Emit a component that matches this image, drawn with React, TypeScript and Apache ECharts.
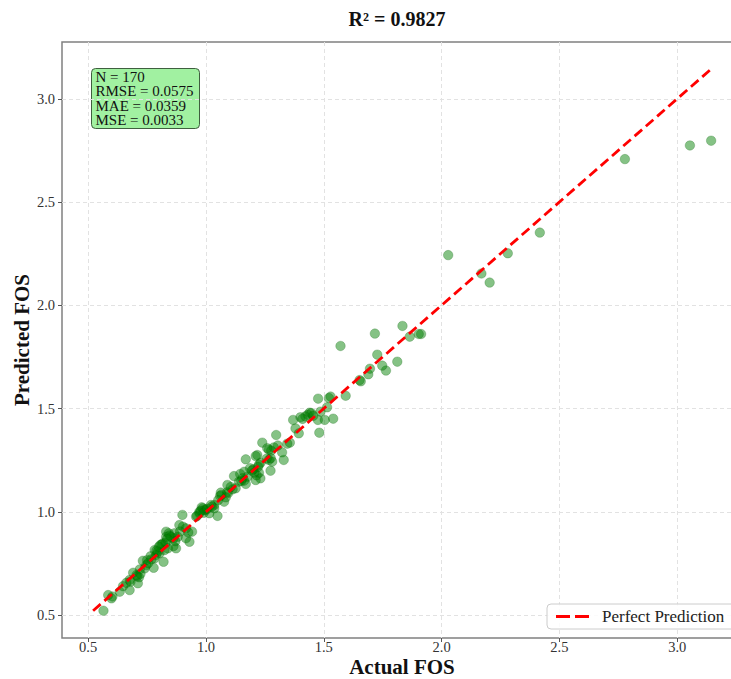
import React, { useEffect, useRef } from "react";
import * as echarts from "echarts";

const actualFOS = [
  3.144, 3.054, 2.778, 2.417, 2.281, 2.204, 2.169, 2.028,
  1.913, 1.903, 1.865, 1.834, 1.812, 1.764, 1.748, 1.727, 1.717, 1.696, 1.689, 1.657, 1.652, 1.571, 1.593, 1.529,
  1.540, 1.522, 1.514, 1.504, 1.486, 1.481, 1.476, 1.475, 1.440, 1.432, 1.447, 1.422, 1.401, 1.394, 1.380, 1.370,
  1.356, 1.330, 1.323, 1.305, 1.298, 1.288, 1.281, 1.277, 1.274, 1.267, 1.267, 1.260, 1.239, 1.232, 1.231, 1.225,
  1.221, 1.218, 1.215, 1.211, 1.211, 1.201, 1.187,
  1.176, 1.169, 1.169, 1.162, 1.162, 1.145, 1.140, 1.126, 1.119, 1.113, 1.094, 1.091, 1.084, 1.077, 1.063, 1.060,
  1.052, 1.049, 1.035, 1.035, 1.021, 1.014,
  1.000, 0.993, 0.986, 0.982, 0.972, 0.972, 0.962, 0.958, 0.941, 0.930, 0.915, 0.915, 0.902, 0.900,
  0.887, 0.880, 0.873, 0.866, 0.862, 0.862, 0.842, 0.838, 0.831, 0.831, 0.828, 0.824, 0.820, 0.817, 0.806, 0.803,
  0.796, 0.789, 0.782, 0.782, 0.778, 0.768, 0.750, 0.747, 0.740, 0.732, 0.719, 0.716, 0.711, 0.705, 0.691, 0.676,
  0.676, 0.662, 0.634, 0.599, 0.585, 0.565,
  0.845, 0.852, 0.835, 0.812, 0.800, 0.708, 0.722, 0.680, 0.603, 0.648, 0.755, 0.765, 0.790, 0.870, 0.890, 0.925,
  0.978, 0.990, 1.005, 1.025, 1.066, 1.090, 1.105, 1.150, 1.155, 1.195, 1.205, 1.225, 1.258, 1.275, 1.410, 1.455,
  1.345,
];

const predictedFOS = [
  2.797, 2.774, 2.708, 2.352, 2.252, 2.110, 2.154, 2.243,
  1.861, 1.861, 1.848, 1.900, 1.727, 1.684, 1.708, 1.761, 1.863, 1.693, 1.666, 1.632, 1.638, 1.803, 1.562, 1.558,
  1.451, 1.551, 1.506, 1.445, 1.485, 1.383, 1.548, 1.445, 1.480, 1.470, 1.478, 1.462, 1.458, 1.380, 1.404, 1.445,
  1.335, 1.251, 1.288, 1.321, 1.372, 1.312, 1.243, 1.296, 1.199, 1.301, 1.251, 1.308, 1.335, 1.238, 1.162, 1.189,
  1.218, 1.275, 1.177, 1.270, 1.154, 1.206, 1.211,
  1.170, 1.254, 1.135, 1.194, 1.151, 1.183, 1.146, 1.114, 1.173, 1.109, 1.090, 1.130, 1.070, 1.049, 1.093, 1.077,
  1.057, 0.980, 1.033, 1.017, 1.033, 0.993,
  1.009, 1.009, 1.017, 1.022, 0.993, 1.000, 0.980, 0.977, 0.904, 0.855, 0.872, 0.920, 0.928, 0.985,
  0.936, 0.879, 0.823, 0.896, 0.872, 0.834, 0.896, 0.823, 0.879, 0.904, 0.850, 0.815, 0.758, 0.847, 0.839, 0.799,
  0.807, 0.791, 0.815, 0.775, 0.729, 0.770, 0.766, 0.742, 0.726, 0.763, 0.721, 0.683, 0.654, 0.694, 0.705, 0.670,
  0.621, 0.656, 0.613, 0.581, 0.597, 0.521,
  0.885, 0.878, 0.868, 0.842, 0.830, 0.688, 0.700, 0.662, 0.590, 0.640, 0.752, 0.785, 0.812, 0.858, 0.905, 0.900,
  1.005, 0.995, 1.015, 1.025, 1.082, 1.095, 1.120, 1.150, 1.162, 1.200, 1.190, 1.228, 1.258, 1.260, 1.450, 1.465,
  1.330,
];

const tickValues = [0.5, 1.0, 1.5, 2.0, 2.5, 3.0];
const axisMin = 0.389;
const axisMax = 3.275;
const perfectLine = [0.521, 3.144];
const titleText = "R² = 0.9827";
const xName = "Actual FOS";
const yName = "Predicted FOS";
const legendName = "Perfect Prediction";
const statLabels = ["N", "RMSE", "MAE", "MSE"];
const statValues = ["170", "0.0575", "0.0359", "0.0033"];

export default function App() {
  const ref = useRef<HTMLDivElement>(null);
  useEffect(() => {
    if (!ref.current) return;
    const chart = echarts.init(ref.current, null, { renderer: "svg" });
    const serif = "'Liberation Serif', 'Times New Roman', serif";
    const points = actualFOS.map((a, i) => [a, predictedFOS[i]]);
    const statText = statLabels.map((l, i) => `${l} = ${statValues[i]}`).join("\n");
    const labelBase = {
      customValues: tickValues,
      formatter: (v: number) => v.toFixed(1),
      fontFamily: serif,
      fontSize: 14.5,
      lineHeight: 14,
      color: "#333",
    };
    const axisCommon = {
      type: "value",
      min: axisMin,
      max: axisMax,
      nameLocation: "middle",
      nameMoveOverlap: false,
      axisLine: { show: false },
      axisTick: { show: true, length: 4, customValues: tickValues, lineStyle: { color: "#555", width: 1 } },
      splitLine: { show: true, lineStyle: { color: "#e2e2e2", width: 1, type: [4, 3] } },
    };
    chart.setOption({
      animation: false,
      backgroundColor: "#ffffff",
      title: {
        text: titleText,
        left: 392,
        top: 4,
        textAlign: "center",
        textStyle: { fontFamily: serif, fontSize: 20, fontWeight: "bold", color: "#111" },
      },
      grid: {
        left: 62,
        top: 42,
        width: 680,
        height: 596,
        outerBoundsMode: "none",
        containLabel: false,
        show: true,
        borderColor: "#808080",
        borderWidth: 1.5,
        backgroundColor: "transparent",
      },
      xAxis: {
        ...axisCommon,
        axisLabel: { ...labelBase, margin: 2 },
        name: xName,
        nameGap: 18,
        nameTextStyle: { fontFamily: serif, fontSize: 21, fontWeight: "bold", color: "#111", lineHeight: 22 },
      },
      yAxis: {
        ...axisCommon,
        axisLabel: { ...labelBase, margin: 7 },
        name: yName,
        nameGap: 30,
        nameTextStyle: { fontFamily: serif, fontSize: 21, fontWeight: "bold", color: "#111" },
      },
      legend: {
        data: [{ name: legendName, icon: "path://M0,0H14V3H0Z M19,0H33V3H19Z" }],
        left: 547,
        top: 604,
        itemWidth: 35,
        itemHeight: 3,
        padding: [4, 22, 4, 9],
        backgroundColor: "rgba(255,255,255,0.85)",
        borderColor: "#cccccc",
        borderWidth: 1,
        borderRadius: 4,
        textStyle: { fontFamily: serif, fontSize: 17, color: "#222", padding: [0, 0, 0, 7] },
      },
      graphic: [
        {
          type: "group",
          left: 91,
          top: 68,
          z: 100,
          children: [
            {
              type: "rect",
              shape: { x: 0, y: 0, width: 108, height: 60, r: 4 },
              style: { fill: "rgba(144,238,144,0.85)", stroke: "#3f5f3f", lineWidth: 1 },
            },
            {
              type: "text",
              x: 4,
              y: 1,
              style: {
                text: statText,
                font: `15px ${serif}`,
                lineHeight: 14.5,
                fill: "#111",
              },
            },
          ],
        },
      ],
      series: [
        {
          type: "scatter",
          data: points,
          symbol: "circle",
          symbolSize: 9.5,
          z: 2,
          itemStyle: { color: "rgba(0,128,0,0.6)", borderColor: "rgba(0,90,0,0.6)", borderWidth: 0.5 },
        },
        {
          type: "line",
          name: legendName,
          data: [
            [perfectLine[0], perfectLine[0]],
            [perfectLine[1], perfectLine[1]],
          ],
          symbol: "none",
          z: 3,
          color: "red",
          lineStyle: { color: "red", width: 2.8, type: [10, 5] },
        },
      ],
    });
    return () => chart.dispose();
  }, []);
  return <div ref={ref} style={{ position: "absolute", left: 0, top: 0, width: 731, height: 679 }} />;
}
